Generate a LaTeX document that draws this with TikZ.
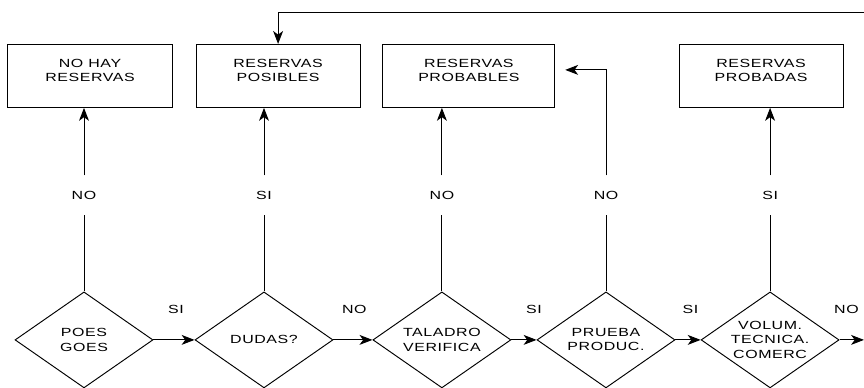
\documentclass[tikz,border=0pt]{standalone}
\usepackage{fontspec}
\newfontfamily\flowfont[FakeStretch=1.35,LetterSpace=5]{Liberation Sans}
\usetikzlibrary{shapes.geometric,arrows.meta}
\tikzset{
	caja/.style={draw, minimum width=5.47cm, minimum height=2.1cm, align=center, inner sep=0pt, text depth=0.34cm},
	rombo/.style={draw, diamond, aspect=1.44, minimum width=4.6cm, minimum height=3.2cm, inner sep=0pt, align=center},
	etiq/.style={minimum height=1.27cm, inner sep=0pt},
	>={Stealth[length=0.43cm,width=0.33cm,inset=0.12cm]}
}
\begin{document}
\begin{tikzpicture}[font={\flowfont\fontsize{11.2}{13.4}\selectfont}, line width=0.9pt]
		\useasboundingbox (0,0) rectangle (28.8,12.93);
		% cajas de resultado
		\node[caja] (noHay) at (3.0,10.4) {NO HAY\\RESERVAS};
		\node[caja] (posibles) at (9.27,10.4) {RESERVAS\\POSIBLES};
		\node[caja, minimum width=5.73cm] (probables) at (15.63,10.4) {RESERVAS\\PROBABLES};
		\node[caja] (probadas) at (25.37,10.4) {RESERVAS\\PROBADAS};
		% rombos de decision
		\node[rombo] (poes) at (2.8,1.6) {POES\\GOES};
		\node[rombo] (dudas) at (8.8,1.6) {DUDAS?};
		\node[rombo] (taladro) at (14.73,1.6) {TALADRO\\VERIFICA};
		\node[rombo] (prueba) at (20.2,1.6) {PRUEBA\\PRODUC.};
		\node[rombo] (volum) at (25.67,1.6) {VOLUM.\\TECNICA.\\COMERC};
		% etiquetas verticales
		\node[etiq] (eNo1) at (2.8,6.43) {NO};
		\node[etiq] (eSi2) at (8.8,6.43) {SI};
		\node[etiq] (eNo3) at (14.73,6.43) {NO};
		\node[etiq] (eNo4) at (20.2,6.43) {NO};
		\node[etiq] (eSi5) at (25.67,6.43) {SI};
		\coordinate (salida) at (28.8,1.6);
		\coordinate (retorno) at (28.8,12.5);
		% lineas verticales
		\draw (poes.north) -- (eNo1.south);
		\draw[->] (eNo1.north) -- (eNo1.north |- noHay.south);
		\draw (dudas.north) -- (eSi2.south);
		\draw[->] (eSi2.north) -- (eSi2.north |- posibles.south);
		\draw (taladro.north) -- (eNo3.south);
		\draw[->] (eNo3.north) -- (eNo3.north |- probables.south);
		\draw (prueba.north) -- (eNo4.south);
		\draw[->] (eNo4.north) |- ([shift={(0.33,0.2)}]probables.east);
		\draw (volum.north) -- (eSi5.south);
		\draw[->] (eSi5.north) -- (eSi5.north |- probadas.south);
		% flechas horizontales
		\draw[->] (poes.east) -- node[pos=0.55, above=0.75cm] {SI} (dudas.west);
		\draw[->] (dudas.east) -- node[pos=0.15, above=0.75cm, xshift=0.5cm] {NO} (taladro.west);
		\draw[->] (taladro.east) -- node[pos=0.9, above=0.75cm] {SI} (prueba.west);
		\draw[->] (prueba.east) -- node[pos=0.6, above=0.75cm] {SI} (volum.west);
		\draw[->] (volum.east) -- node[pos=0.28, above=0.75cm] {NO} (salida);
		% retorno superior
		\draw[->] (retorno) -| (posibles.north);
	\end{tikzpicture}
\end{document}
